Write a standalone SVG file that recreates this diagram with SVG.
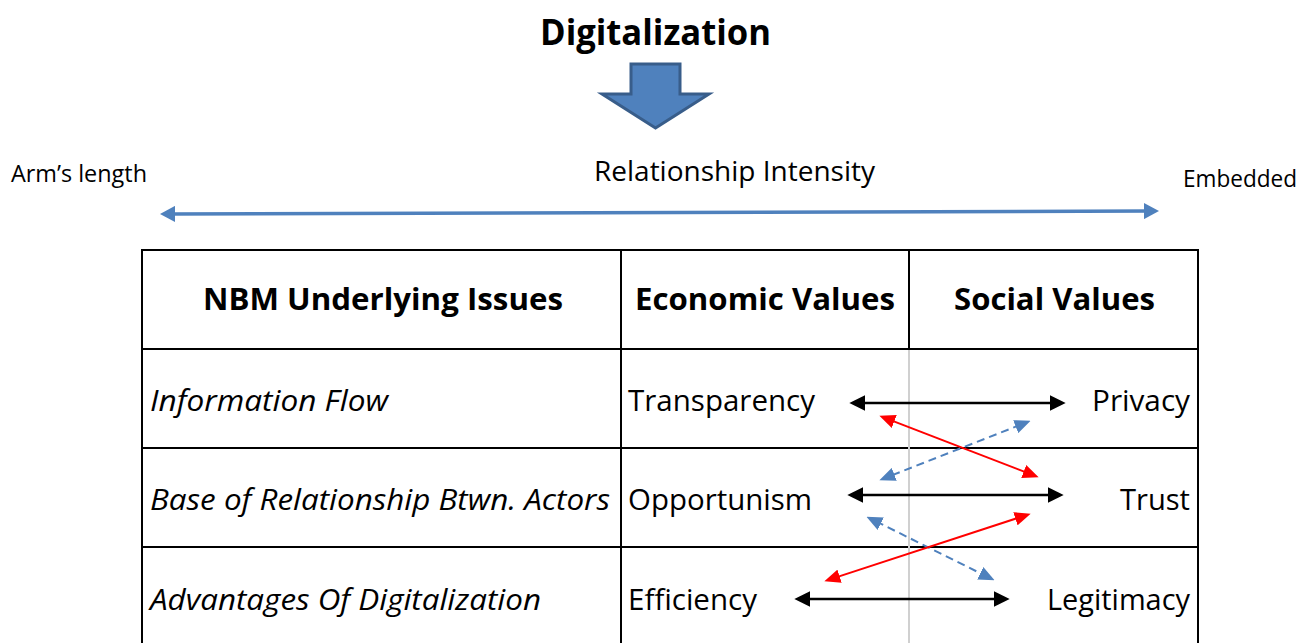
<svg xmlns="http://www.w3.org/2000/svg" width="1301" height="643" viewBox="0 0 1301 643">
<style>
text{font-family:"Open Sans","Liberation Sans",sans-serif;fill:#000}
.b{font-weight:bold}
.i{font-style:italic}
.row{font-size:30px}
.hd{font-size:31px}
.grid{stroke:#000;stroke-width:2;fill:none}
.blk{stroke:#000;stroke-width:2.5;fill:none;marker-start:url(#mk);marker-end:url(#mk)}
.red{stroke:#FF0000;stroke-width:2;fill:none;marker-start:url(#mr);marker-end:url(#mr)}
.blu{stroke:#4F81BD;stroke-width:2;stroke-dasharray:8 5;fill:none;marker-start:url(#mb);marker-end:url(#mb)}
</style>
<defs>
<marker id="mk" markerUnits="userSpaceOnUse" markerWidth="16" markerHeight="16" refX="5" refY="7.5" orient="auto-start-reverse" viewBox="0 0 15 15"><path d="M0,0 L15,7.5 L0,15 z" fill="#000"/></marker>
<marker id="mr" markerUnits="userSpaceOnUse" markerWidth="16" markerHeight="14" refX="5" refY="6.5" orient="auto-start-reverse" viewBox="0 0 15 13"><path d="M0,0 L15,6.5 L0,13 z" fill="#FF0000"/></marker>
<marker id="mb" markerUnits="userSpaceOnUse" markerWidth="16" markerHeight="14" refX="5" refY="6.5" orient="auto-start-reverse" viewBox="0 0 15 13"><path d="M0,0 L15,6.5 L0,13 z" fill="#4F81BD"/></marker>
<marker id="mt" markerUnits="userSpaceOnUse" markerWidth="16" markerHeight="16" refX="5" refY="8" orient="auto-start-reverse" viewBox="0 0 15 16"><path d="M0,0 L15,8 L0,16 z" fill="#4F81BD"/></marker>
</defs>
<rect width="1301" height="643" fill="#fff"/>

<g id="title">
<text class="b" x="540" y="45" font-size="35" textLength="231" lengthAdjust="spacingAndGlyphs">Digitalization</text>
</g>
<g id="block-arrow">
<polygon points="631,64 680,64 680,94 709,94 655.5,128 602,94 631,94" fill="#4F81BD" stroke="#385D8A" stroke-width="3" stroke-linejoin="miter"/>
</g>
<g id="scale-labels">
<text x="11" y="182" font-size="23" textLength="136" lengthAdjust="spacingAndGlyphs">Arm’s length</text>
<text x="594" y="181" font-size="27" textLength="281" lengthAdjust="spacingAndGlyphs">Relationship Intensity</text>
<text x="1183" y="187" font-size="23" textLength="114" lengthAdjust="spacingAndGlyphs">Embedded</text>
</g>

<g id="table">
<rect class="grid" x="142" y="250" width="1056" height="400"/>
<line class="grid" x1="142" y1="349" x2="1198" y2="349"/>
<line class="grid" x1="142" y1="448" x2="1198" y2="448"/>
<line class="grid" x1="142" y1="547" x2="1198" y2="547"/>
<line class="grid" x1="621" y1="250" x2="621" y2="643"/>
<line class="grid" x1="909" y1="250" x2="909" y2="349"/>
<line x1="909" y1="350" x2="909" y2="643" stroke="#D0D0D0" stroke-width="2"/>
</g>

<g id="header">
<text class="b hd" x="203" y="310" textLength="360" lengthAdjust="spacingAndGlyphs">NBM Underlying Issues</text>
<text class="b hd" x="635" y="310" textLength="260" lengthAdjust="spacingAndGlyphs">Economic Values</text>
<text class="b hd" x="954" y="310" textLength="201" lengthAdjust="spacingAndGlyphs">Social Values</text>
</g>

<g id="row-information-flow">
<text class="i row" x="150" y="411" textLength="238" lengthAdjust="spacingAndGlyphs">Information Flow</text>
<text class="row" x="628" y="411" textLength="187" lengthAdjust="spacingAndGlyphs">Transparency</text>
<text class="row" x="1190" y="411" text-anchor="end" textLength="98" lengthAdjust="spacingAndGlyphs">Privacy</text>
</g>
<g id="row-base-of-relationship">
<text class="i row" x="150" y="510" textLength="460" lengthAdjust="spacingAndGlyphs">Base of Relationship Btwn. Actors</text>
<text class="row" x="628" y="510" textLength="184" lengthAdjust="spacingAndGlyphs">Opportunism</text>
<text class="row" x="1190" y="510" text-anchor="end" textLength="70" lengthAdjust="spacingAndGlyphs">Trust</text>
</g>
<g id="row-advantages">
<text class="i row" x="150" y="610" textLength="391" lengthAdjust="spacingAndGlyphs">Advantages Of Digitalization</text>
<text class="row" x="628" y="610" textLength="129" lengthAdjust="spacingAndGlyphs">Efficiency</text>
<text class="row" x="1190" y="610" text-anchor="end" textLength="143" lengthAdjust="spacingAndGlyphs">Legitimacy</text>
</g>

<g id="connectors">
<line x1="170" y1="213.9" x2="1149" y2="211.1" stroke="#4F81BD" stroke-width="3.5" marker-start="url(#mt)" marker-end="url(#mt)"/>
<line class="blk" x1="860" y1="403" x2="1055" y2="403"/>
<line class="blk" x1="858" y1="495" x2="1053" y2="495"/>
<line class="blk" x1="805" y1="599" x2="999" y2="599"/>
<line class="red" x1="889.3" y1="419.6" x2="1028.7" y2="473.4"/>
<line class="blu" x1="1020.7" y1="424.7" x2="889.3" y2="476.3"/>
<line class="blu" x1="876" y1="521.4" x2="985" y2="575.6"/>
<line class="red" x1="1020.5" y1="517.1" x2="834.5" y2="577.9"/>
</g>
</svg>
